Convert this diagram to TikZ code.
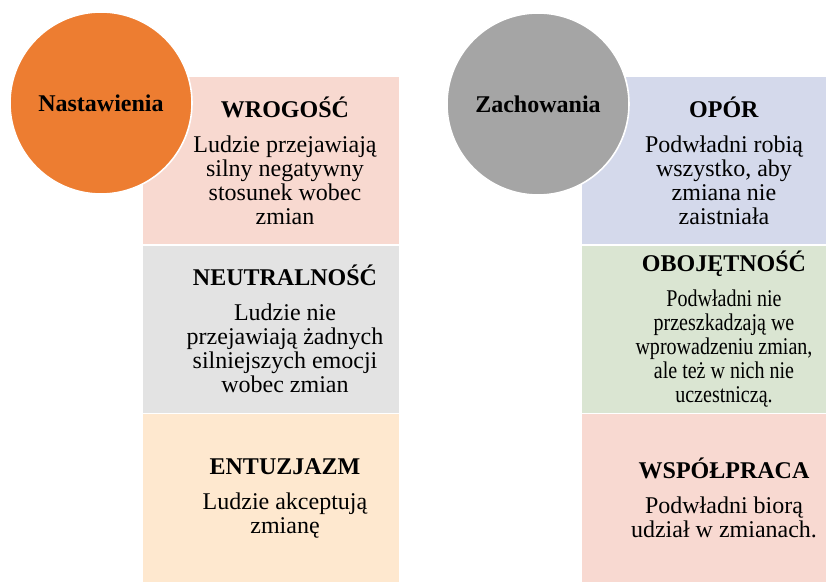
\documentclass[tikz,border=0pt]{standalone}
\usepackage{fontspec}
\setmainfont{Liberation Serif}
\newfontfamily\narrowserif[FakeStretch=0.835]{Liberation Serif}
\usetikzlibrary{positioning}
\definecolor{attitude}{HTML}{ED7D31}
\definecolor{behaviour}{HTML}{A5A5A5}
\definecolor{hostile}{HTML}{F8D9D0}
\definecolor{neutral}{HTML}{E3E3E3}
\definecolor{keen}{HTML}{FEE8CF}
\definecolor{resist}{HTML}{D4D9EB}
\definecolor{indiff}{HTML}{DAE5D2}
\definecolor{cooper}{HTML}{F8D9D1}
\tikzset{
  circ/.style={circle,draw=white,line width=0.8pt,minimum size=91pt,inner sep=0pt,
    font=\fontsize{12}{12}\selectfont\bfseries},
  cell/.style={rectangle,minimum height=83.6pt,inner sep=0pt,outer sep=0pt},
  leftcell/.style={cell,minimum width=128pt},
  rightcell/.style={cell,minimum width=122pt},
  txt/.style={align=center,inner sep=0pt,font=\fontsize{12}{12}\selectfont}
}
\begin{document}
\begin{tikzpicture}[x=0.5pt,y=-0.5pt]
  \useasboundingbox (0,0) rectangle (826,582);
  % left column
  \node[leftcell,fill=hostile,anchor=north west] (wrog) at (143,77) {};
  \node[leftcell,fill=neutral,below=0.75pt of wrog] (neut) {};
  \node[leftcell,fill=keen,below=0.75pt of neut] (entu) {};
  % right column
  \node[rightcell,fill=resist,anchor=north west] (opor) at (582,77) {};
  \node[rightcell,fill=indiff,below=0.75pt of opor] (oboj) {};
  \node[rightcell,fill=cooper,below=0.75pt of oboj] (wspol) {};
  % circles
  \node[circ,fill=attitude] (nast) at (101,103) {Nastawienia};
  \node[circ,fill=behaviour] (zach) at (538,104) {Zachowania};
  % texts
  \node[txt] (wrogT) at ([xshift=71pt]wrog.west) {\textbf{WROGOŚĆ}\\[5.5pt]Ludzie przejawiają\\silny negatywny\\stosunek wobec\\zmian};
  \node[txt] (neutT) at ([xshift=71pt]neut.west) {\textbf{NEUTRALNOŚĆ}\\[5.5pt]Ludzie nie\\przejawiają żadnych\\silniejszych emocji\\wobec zmian};
  \node[txt] (entuT) at ([xshift=71pt]entu.west) {\textbf{ENTUZJAZM}\\[5.5pt]Ludzie akceptują\\zmianę};
  \node[txt] (oporT) at ([xshift=71pt]opor.west) {\textbf{OPÓR}\\[5.5pt]Podwładni robią\\wszystko, aby\\zmiana nie\\zaistniała};
  \node[txt] (obojT) at ([xshift=71pt]oboj.west) {\textbf{OBOJĘTNOŚĆ}\\[5.5pt]{\narrowserif Podwładni nie}\\{\narrowserif przeszkadzają we}\\{\narrowserif wprowadzeniu zmian,}\\{\narrowserif ale też w nich nie}\\{\narrowserif uczestniczą.}};
  \node[txt] (wspolT) at ([xshift=71pt]wspol.west) {\textbf{WSPÓŁPRACA}\\[5.5pt]Podwładni biorą\\udział w zmianach.};
\end{tikzpicture}
\end{document}
